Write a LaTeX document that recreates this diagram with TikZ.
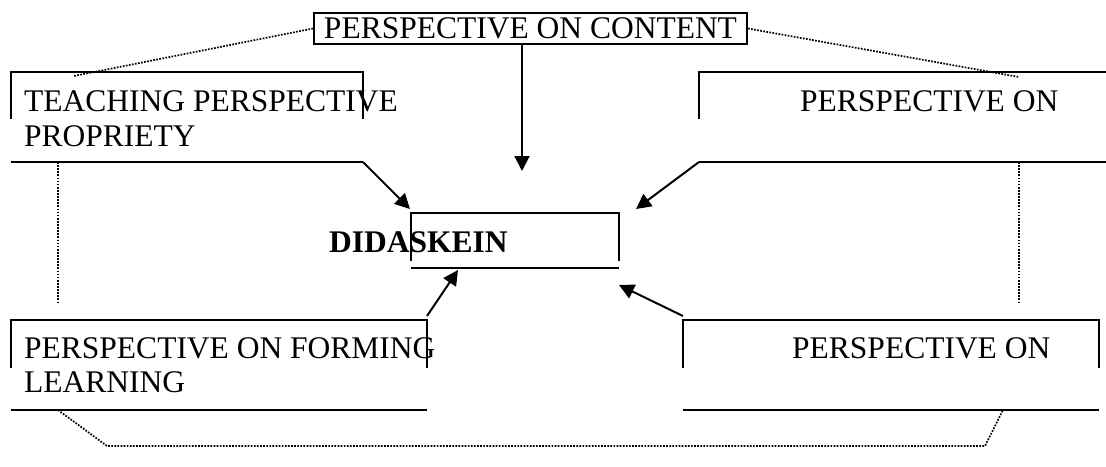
\documentclass[tikz,border=0pt]{standalone}
\usepackage{fontspec}
\setmainfont{Liberation Serif}
\usetikzlibrary{arrows.meta,calc}

\tikzset{
  boxline/.style={line width=2pt},
  dotline/.style={line width=1.7pt, dash pattern=on 1.7pt off 1.4pt},
  pointer/.style={line width=2pt, -{Triangle[length=15pt,width=15pt]}},
  boxtext/.style={inner sep=0pt, anchor=base west, font=\fontsize{31.5}{35}\selectfont},
}

\begin{document}
\begin{tikzpicture}[x=1pt,y=-1pt]
    \useasboundingbox (0,0) rectangle (1106,466);

    % Content box
    \node[draw, boxline, minimum width=433pt, minimum height=31.6pt, inner sep=0pt,
          font=\fontsize{31.5}{35}\selectfont] (content) at (530.5,28.5) {PERSPECTIVE ON CONTENT};

    % Teaching box (top left)
    \coordinate (tlA) at (10.7,72);  \coordinate (tlB) at (363,72);
    \coordinate (tlC) at (10.7,162); \coordinate (tlD) at (363,162);
    \draw[boxline] ($(tlA)+(0,47)$) -- (tlA) -- (tlB) -- ($(tlB)+(0,47)$);
    \draw[boxline] (tlC) -- (tlD);
    \node[boxtext] (teach1) at (24,111.7) {TEACHING PERSPECTIVE};
    \node[boxtext] (teach2) at (24,146.7) {PROPRIETY};

    % Perspective box (top right)
    \coordinate (trA) at (699,72);  \coordinate (trB) at (1106,72);
    \coordinate (trC) at (699,162); \coordinate (trD) at (1106,162);
    \draw[boxline] ($(trA)+(0,47)$) -- (trA) -- (trB);
    \draw[boxline] (trC) -- (trD);
    \node[boxtext] (upright) at (800,111.7) {PERSPECTIVE ON};

    % Didaskein box
    \coordinate (dA) at (411,213); \coordinate (dB) at (619,213);
    \coordinate (dC) at (411,268); \coordinate (dD) at (619,268);
    \draw[boxline] ($(dA)+(0,48)$) -- (dA) -- (dB) -- ($(dB)+(0,48)$);
    \draw[boxline] (dC) -- (dD);
    \node[boxtext, font=\fontsize{31.5}{35}\selectfont\bfseries] (dida) at (329,252.5) {DIDASKEIN};

    % Forming box (bottom left)
    \coordinate (blA) at (10.7,320); \coordinate (blB) at (427,320);
    \coordinate (blC) at (10.7,410); \coordinate (blD) at (427,410);
    \draw[boxline] ($(blA)+(0,48)$) -- (blA) -- (blB) -- ($(blB)+(0,48)$);
    \draw[boxline] (blC) -- (blD);
    \node[boxtext] (form1) at (24,358) {PERSPECTIVE ON FORMING};
    \node[boxtext] (form2) at (24,392.7) {LEARNING};

    % Perspective box (bottom right)
    \coordinate (brA) at (683,320); \coordinate (brB) at (1099,320);
    \coordinate (brC) at (683,410); \coordinate (brD) at (1099,410);
    \draw[boxline] ($(brA)+(0,48)$) -- (brA) -- (brB) -- ($(brB)+(0,48)$);
    \draw[boxline] (brC) -- (brD);
    \node[boxtext] (downright) at (792,358) {PERSPECTIVE ON};

    % Arrows into didaskein
    \coordinate (tipTL) at (410,209);
    \coordinate (tipT)  at (522,171);
    \coordinate (tipTR) at (636,209);
    \coordinate (tipBL) at (458,270);
    \coordinate (tipBR) at (619,285);
    \draw[pointer] (tlD) -- (tipTL);
    \draw[pointer] (content.south -| tipT) -- (tipT);
    \draw[pointer] (trC) -- (tipTR);
    \draw[pointer] ($(blB)+(0,-4)$) -- (tipBL);
    \draw[pointer] ($(brA)+(0,-4)$) -- (tipBR);

    % Dotted links
    \coordinate (dotL) at (74,76);   \coordinate (dotR) at (1019,77);
    \coordinate (sideL) at (58,304); \coordinate (sideR) at (1019,304);
    \coordinate (botA) at (107,446); \coordinate (botB) at (985,446);
    \draw[dotline] (content.west) -- (dotL);
    \draw[dotline] (content.east) -- (dotR);
    \draw[dotline] (tlC -| sideL) -- (sideL);
    \draw[dotline] (trC -| sideR) -- (sideR);
    \draw[dotline] (blC -| sideL) -- (botA) -- (botB) -- (1003,410);
\end{tikzpicture}
\end{document}
